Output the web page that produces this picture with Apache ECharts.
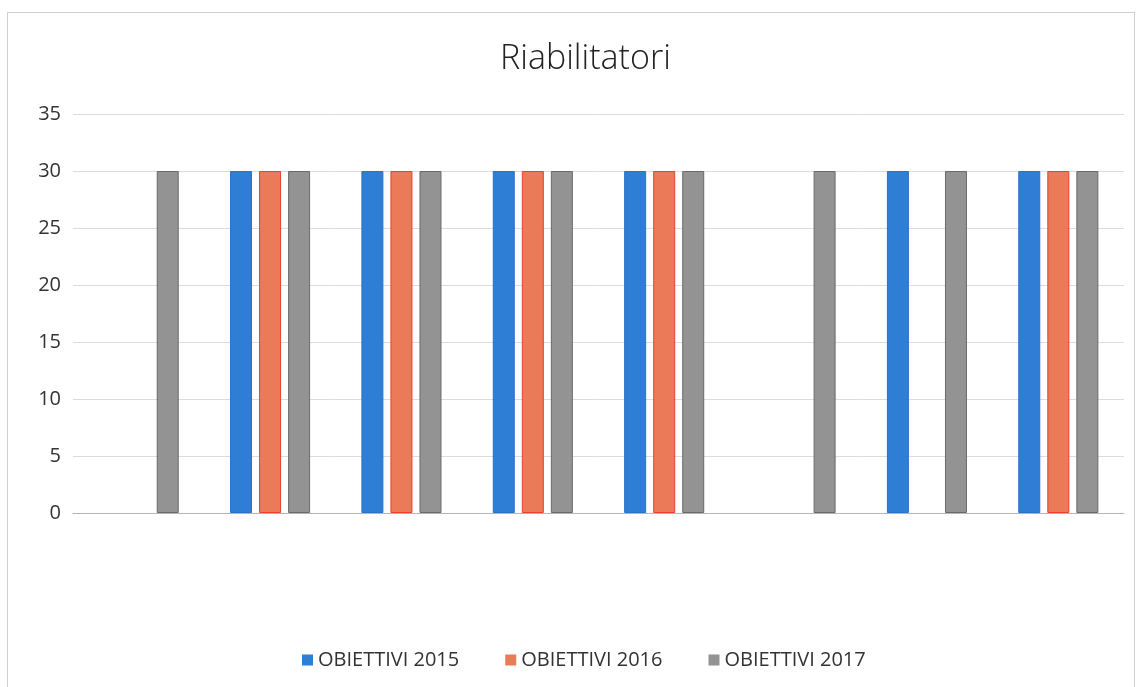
<!DOCTYPE html>
<html>
<head>
<meta charset="utf-8">
<script src="https://cdn.jsdelivr.net/npm/echarts@6/dist/echarts.min.js"></script>
<style>
  html,body{margin:0;padding:0;background:#fff;}
  #chart{position:absolute;left:7px;top:12px;width:1128px;height:675px;border:1px solid #cfcfcf;border-bottom:none;box-sizing:border-box;}
</style>
</head>
<body>
<div id="chart"></div>
<script>
// categories are not readable on the scan, labels kept hidden
const categories = ['1', '2', '3', '4', '5', '6', '7', '8']
const obiettivi2015 = [null, 30, 30, 30, 30, null, 30, 30]
const obiettivi2016 = [null, 30, 30, 30, 30, null, null, 30]
const obiettivi2017 = [30, 30, 30, 30, 30, 30, 30, 30]
const yTicks = [0, 5, 10, 15, 20, 25, 30, 35]

const chart = echarts.init(document.getElementById('chart'))
const bar = (name, data, color, border) => ({
  name,
  type: 'bar',
  data,
  barWidth: 22,
  barGap: '32%',
  itemStyle: { color, borderColor: border, borderWidth: 1 }
})
chart.setOption({
  animation: false,
  title: {
    text: 'Riabilitatori',
    left: 487,
    top: 24,
    textStyle: { fontFamily: 'Open Sans', fontWeight: 300, fontSize: 34, color: '#222' }
  },
  legend: {
    bottom: 12,
    left: 289,
    itemWidth: 11,
    itemHeight: 11,
    itemGap: 46,
    icon: 'rect',
    itemStyle: { borderWidth: 0 },
    textStyle: { fontFamily: 'Open Sans', fontSize: 20, color: '#333' }
  },
  grid: { left: 65, right: 10, top: 101, bottom: 174 },
  xAxis: {
    type: 'category',
    data: categories,
    axisTick: { show: false },
    axisLabel: { show: false },
    axisLine: { lineStyle: { color: '#b5b5b5' } }
  },
  yAxis: {
    type: 'value',
    min: yTicks[0],
    max: yTicks[yTicks.length - 1],
    interval: 5,
    axisLabel: { fontFamily: 'Open Sans', fontSize: 20, color: '#333', margin: 12 },
    splitLine: { lineStyle: { color: '#dcdcdc' } },
    axisLine: { show: false },
    axisTick: { show: false }
  },
  series: [
    bar('OBIETTIVI 2015', obiettivi2015, '#2e7ed6', '#2a72c4'),
    bar('OBIETTIVI 2016', obiettivi2016, '#ea7a58', '#e8412c'),
    bar('OBIETTIVI 2017', obiettivi2017, '#939393', '#6a6a6a')
  ]
})
</script>
</body>
</html>
